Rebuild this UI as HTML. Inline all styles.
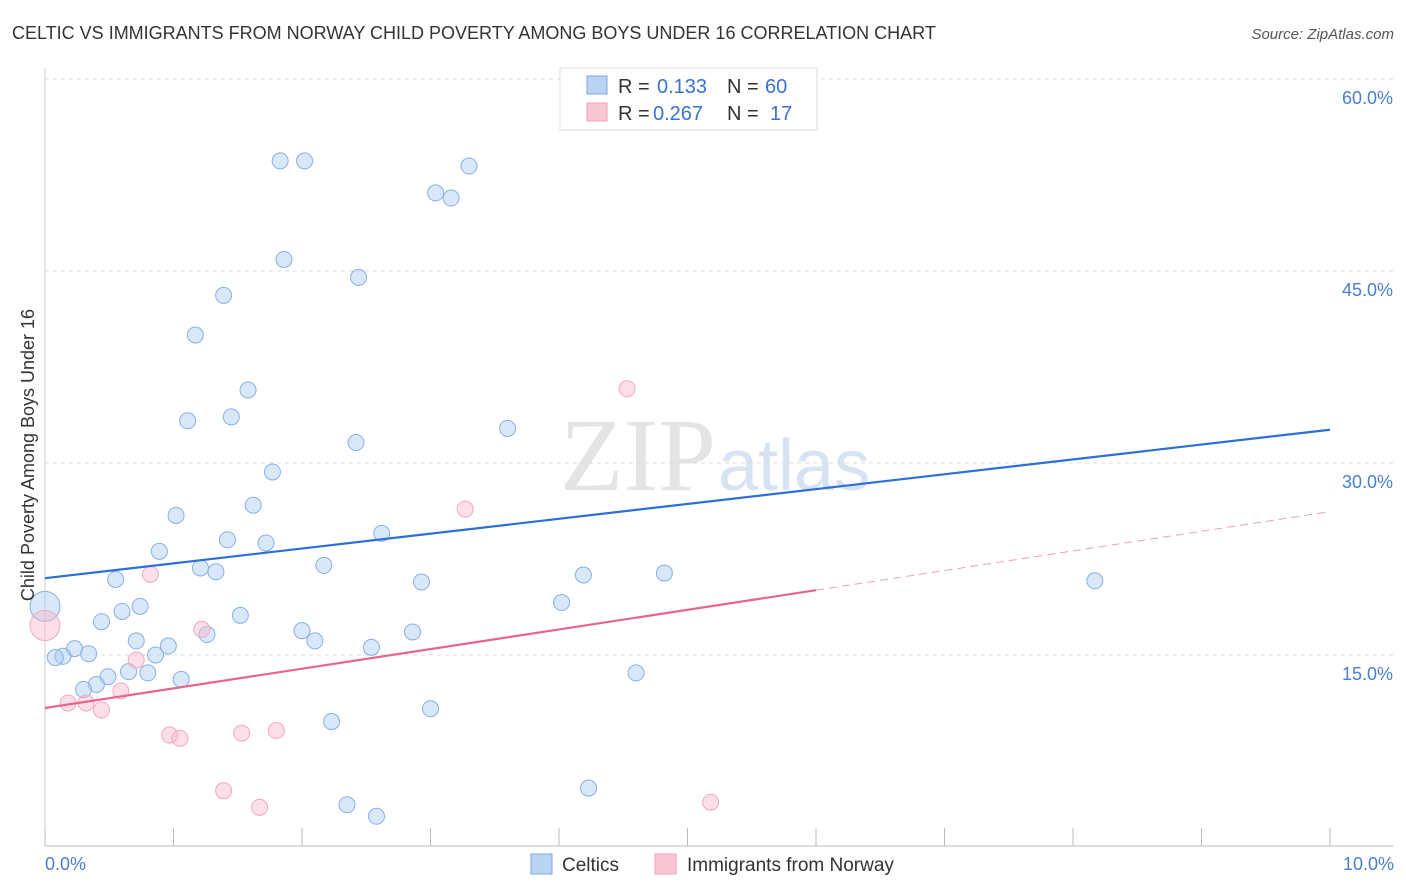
<!DOCTYPE html>
<html><head><meta charset="utf-8"><style>
body{margin:0;background:#fff;font-family:"Liberation Sans",sans-serif;}
svg{display:block}
</style></head><body>
<svg id="chart" width="1406" height="892">
<text x="12" y="39" font-size="18" fill="#333">CELTIC VS IMMIGRANTS FROM NORWAY CHILD POVERTY AMONG BOYS UNDER 16 CORRELATION CHART</text>
<text x="1394" y="39" font-size="15" fill="#555" font-style="italic" text-anchor="end">Source: ZipAtlas.com</text>
<text x="716" y="490" font-size="104" fill="#e4e4e4" font-family="Liberation Serif,serif" text-anchor="end">ZIP</text>
<text x="718" y="490" font-size="72" fill="#d6e3f3">atlas</text>
<g id="grid"></g>
<g id="axes"></g>
<g id="marks"></g>
<text transform="translate(34,455) rotate(-90)" font-size="18" fill="#333" text-anchor="middle">Child Poverty Among Boys Under 16</text>
<text x="45" y="870" font-size="18" fill="#4a7fd0">0.0%</text>
<text x="1394" y="870" font-size="18" fill="#4a7fd0" text-anchor="end">10.0%</text>
<g>
<rect x="560" y="68" width="257" height="62" fill="#fff" stroke="#ddd"/>
<rect x="587" y="76" width="20" height="18" fill="#b9d4f3" stroke="#7aa8e0"/>
<rect x="587" y="103" width="20" height="18" fill="#f9c6d5" stroke="#f0a0b8"/>
<text x="618" y="93" font-size="20" fill="#333">R = </text><text x="657" y="93" font-size="20" fill="#3a72d0">0.133</text>
<text x="727" y="93" font-size="20" fill="#333">N = </text><text x="765" y="93" font-size="20" fill="#3a72d0">60</text>
<text x="618" y="120" font-size="20" fill="#333">R = </text><text x="653" y="120" font-size="20" fill="#3a72d0">0.267</text>
<text x="727" y="120" font-size="20" fill="#333">N = </text><text x="770" y="120" font-size="20" fill="#3a72d0">17</text>
</g>
<g>
<rect x="531" y="854" width="21" height="20" fill="#b9d4f3" stroke="#7aa8e0"/>
<text x="562" y="871" font-size="19" fill="#333">Celtics</text>
<rect x="655" y="854" width="21" height="20" fill="#f9c6d5" stroke="#f0a0b8"/>
<text x="687" y="871" font-size="19" fill="#333">Immigrants from Norway</text>
</g>
</svg>
<script>
const yTicks=[15,30,45,60];
const yTickLabels=["15.0%","30.0%","45.0%","60.0%"];
const celticX=[1.83,2.02,3.30,3.04,3.16,1.86,2.44,1.39,1.17,1.58,1.11,1.45,3.60,2.42,1.77,1.62,1.02,2.62,1.42,1.72,0.89,2.17,1.21,1.33,0.55,2.93,4.19,4.82,8.17,0.74,0.60,4.02,1.52,0.44,2.00,2.86,1.26,2.10,0.71,2.54,0.96,0.23,0.34,0.86,0.14,0.08,0.65,0.80,0.49,4.60,1.06,0.40,0.30,2.23,3.00,4.23,2.35,2.58];
const celticY=[53.6,53.6,53.2,51.1,50.7,45.9,44.5,43.1,40.0,35.7,33.3,33.6,32.7,31.6,29.3,26.7,25.9,24.5,24.0,23.75,23.1,22.0,21.8,21.5,20.9,20.7,21.25,21.4,20.8,18.8,18.4,19.1,18.1,17.6,16.9,16.8,16.6,16.1,16.1,15.6,15.7,15.5,15.1,15.0,14.9,14.8,13.7,13.6,13.3,13.6,13.1,12.7,12.3,9.8,10.8,4.6,3.3,2.4];
const norwayX=[4.53,3.27,0.82,1.22,0.71,0.59,0.18,0.32,0.44,0.97,1.05,1.53,1.80,1.39,1.67,5.18];
const norwayY=[35.8,26.4,21.3,17.0,14.6,12.2,11.25,11.25,10.7,8.75,8.5,8.9,9.1,4.4,3.1,3.5];
const bigX=[0.0,0.0];const bigY=[18.8,17.3];
const trendBlue=[21.0,32.6];const trendPink=[10.86,26.2];const pinkSolidEnd=6.0;
const X0=45,X1=1330,Y0=847,PY=12.8;
const sx=v=>X0+v*(X1-X0)/10, sy=v=>Y0-v*PY;
const NS="http://www.w3.org/2000/svg";
function mk(t,a,p){const e=document.createElementNS(NS,t);for(const k in a)e.setAttribute(k,a[k]);p.appendChild(e);return e;}
const grid=document.getElementById('grid'),axes=document.getElementById('axes'),marks=document.getElementById('marks');
yTicks.forEach((t,i)=>{
 const l=mk('line',{x1:45,x2:1393,y1:sy(t),y2:sy(t),stroke:'#ddd','stroke-dasharray':'4,4'},grid);
 
 
 const tx=mk('text',{x:1393,y:sy(t)+25,'font-size':18,fill:'#4a7fd0','text-anchor':'end'},grid);tx.textContent=yTickLabels[i];
 
 
});
const ax=mk('line',{x1:45,x2:1393,y1:846,y2:846,stroke:'#bbb'},axes);


const ay=mk('line',{x1:45,x2:45,y1:68,y2:846,stroke:'#ccc'},axes);


for(let i=0;i<=10;i++){const t=mk('line',{x1:sx(i),x2:sx(i),y1:828,y2:846,stroke:'#bbb'},axes);
 
 }
function dot(x,y,r,f,s,name){const c=mk('circle',{cx:sx(x),cy:sy(y),r:r,fill:f,stroke:s,'stroke-width':1},marks);
 
 }
const bf='rgba(170,204,242,0.45)',bs='#86b0e2',pf='rgba(248,184,204,0.45)',ps='#f2a8c0';
celticX.forEach((x,i)=>dot(x,celticY[i],8,bf,bs,'celtic-point'));
norwayX.forEach((x,i)=>dot(x,norwayY[i],8,pf,ps,'norway-point'));
dot(bigX[0],bigY[0],15,bf,bs,'celtic-point');
dot(bigX[1],bigY[1],15,pf,ps,'norway-point');
const tb=mk('line',{x1:sx(0),y1:sy(trendBlue[0]),x2:sx(10),y2:sy(trendBlue[1]),stroke:'#2d6fd6','stroke-width':2.2},marks);


const pm=trendPink[0]+(trendPink[1]-trendPink[0])*pinkSolidEnd/10;
const tp=mk('line',{x1:sx(0),y1:sy(trendPink[0]),x2:sx(pinkSolidEnd),y2:sy(pm),stroke:'#e8648f','stroke-width':2.2},marks);


const td=mk('line',{x1:sx(pinkSolidEnd),y1:sy(pm),x2:sx(10),y2:sy(trendPink[1]),stroke:'#eda0b8','stroke-width':1,'stroke-dasharray':'8,5'},marks);


</script>
</body></html>
